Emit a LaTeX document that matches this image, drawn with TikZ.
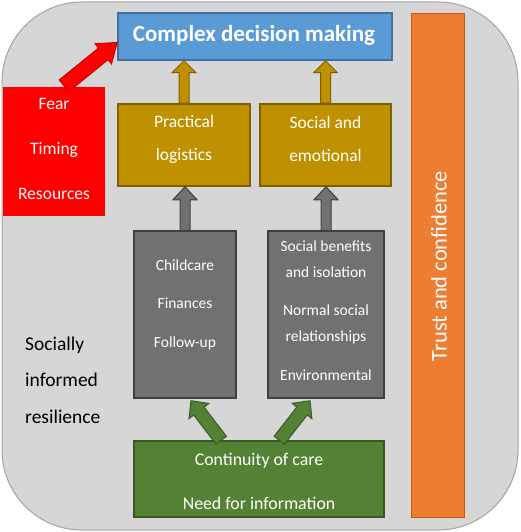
\documentclass[tikz,border=0pt]{standalone}
\usepackage{fontspec}
\setmainfont{Carlito}
\usetikzlibrary{calc}
\definecolor{bgc}{HTML}{D6D6D6}
\definecolor{bgline}{HTML}{A3A3A3}
\definecolor{bluef}{HTML}{5B9BD5}
\definecolor{bluel}{HTML}{41719C}
\definecolor{orangef}{HTML}{ED7D31}
\definecolor{orangel}{HTML}{C55A11}
\definecolor{redf}{HTML}{FF0000}
\definecolor{redl}{HTML}{D00000}
\definecolor{goldf}{HTML}{BF9000}
\definecolor{goldl}{HTML}{7F6000}
\definecolor{grayf}{HTML}{717171}
\definecolor{grayl}{HTML}{404040}
\definecolor{greenf}{HTML}{548235}
\definecolor{greenl}{HTML}{385723}
\newcommand\fatarrow[6]{%
  \coordinate (faH) at ($(#3)!#6!(#2)$);
  \draw[#1] ($(#2)!#4!90:(#3)$) -- ($(faH)!#4!90:(#3)$) -- ($(faH)!#5!90:(#3)$) -- (#3)
    -- ($(faH)!#5!-90:(#3)$) -- ($(faH)!#4!-90:(#3)$) -- ($(#2)!#4!-90:(#3)$) -- cycle;}
\begin{document}
\begin{tikzpicture}[x=1pt,y=-1pt,
  box/.style={inner sep=0pt, line width=1.5pt},
  wtxt/.style={text=white, align=center, inner sep=0pt},
  goldarrow/.style={fill=goldf, draw=goldl, line width=1pt, line join=miter},
  grayarrow/.style={fill=grayf, draw=grayl, line width=1pt, line join=miter},
  greenarrow/.style={fill=greenf, draw=greenl, line width=1pt, line join=miter},
  redarrow/.style={fill=redf, draw=redl, line width=1pt, line join=miter}]
\useasboundingbox (0,0) rectangle (520,532);
\draw[fill=bgc, draw=bgline, line width=1pt, rounded corners=80pt] (2,2) rectangle (518,530);

\node[box, fill=bluef, draw=bluel, minimum width=274pt, minimum height=47pt] (blue) at (255,36.5) {};
\node[wtxt, font=\bfseries\fontsize{23}{27}\selectfont] (bluet) at (254,35.5) {Complex decision making};

\node[box, fill=orangef, draw=orangel, line width=1pt, minimum width=53pt, minimum height=503pt] (orange) at (437.5,265.5) {};
\node[wtxt, rotate=90, font=\fontsize{22.5}{27}\selectfont] (oranget) at (439,266) {Trust and confidence};

\node[box, fill=redf, draw=none, minimum width=102pt, minimum height=129pt] (red) at (54,151.5) {};
\node[wtxt, font=\fontsize{17.5}{45}\selectfont] (redt) at (54,149) {Fear\\Timing\\Resources};

\node[box, fill=goldf, draw=goldl, minimum width=132pt, minimum height=82pt] (prac) at (184,145) {};
\node[wtxt, font=\fontsize{17.5}{33}\selectfont] (pract) at (184,139) {Practical\\logistics};
\node[box, fill=goldf, draw=goldl, minimum width=131pt, minimum height=82pt] (soc) at (325.5,145) {};
\node[wtxt, font=\fontsize{17.5}{33}\selectfont] (soct) at (325.5,139) {Social and\\emotional};

\node[box, fill=grayf, draw=grayl, minimum width=102pt, minimum height=167pt] (grayL) at (185,314.5) {};
\node[wtxt, font=\fontsize{15.5}{38.5}\selectfont] (grayLt) at (185,304.5) {Childcare\\Finances\\Follow-up};
\node[box, fill=grayf, draw=grayl, minimum width=116pt, minimum height=167pt] (grayR) at (326,314.5) {};
\node[wtxt, font=\fontsize{15.5}{26}\selectfont] (grayRt) at (326,310.5) {Social benefits\\and isolation\\[12.5pt]Normal social\\relationships\\[13pt]Environmental};

\node[box, fill=greenf, draw=greenl, minimum width=250pt, minimum height=76pt] (green) at (259,479) {};
\node[wtxt, font=\fontsize{17.8}{44}\selectfont] (greent) at (259,481) {Continuity of care\\Need for information};

\node[align=left, inner sep=0pt, anchor=west, font=\fontsize{19.5}{36.5}\selectfont] (sir) at (25,380) {Socially\\informed\\resilience};

% arrows
\fatarrow{goldarrow}{prac.north}{prac.north |- blue.south}{5pt}{12pt}{12pt}
\fatarrow{goldarrow}{soc.north}{soc.north |- blue.south}{5pt}{12pt}{12pt}
\fatarrow{grayarrow}{grayL.north}{grayL.north |- prac.south}{5pt}{12pt}{13pt}
\fatarrow{grayarrow}{grayR.north}{grayR.north |- soc.south}{5pt}{12pt}{13pt}
\coordinate (gLs) at ($(green.north west)+(88,0)$);
\coordinate (gLe) at ($(grayL.south)+(6,2)$);
\coordinate (gRs) at ($(green.north west)+(146,0)$);
\coordinate (gRe) at ($(grayR.south)+(-16,2)$);
\fatarrow{greenarrow}{gLs}{gLe}{6.5pt}{12.5pt}{13pt}
\fatarrow{greenarrow}{gRs}{gRe}{6.5pt}{12.5pt}{13pt}
\coordinate (rs) at ($(red.north)+(10,-0.5)$);
\coordinate (re) at ($(blue.west)+(0,6)$);
\fatarrow{redarrow}{rs}{re}{7.5pt}{13pt}{18pt}
\end{tikzpicture}
\end{document}
